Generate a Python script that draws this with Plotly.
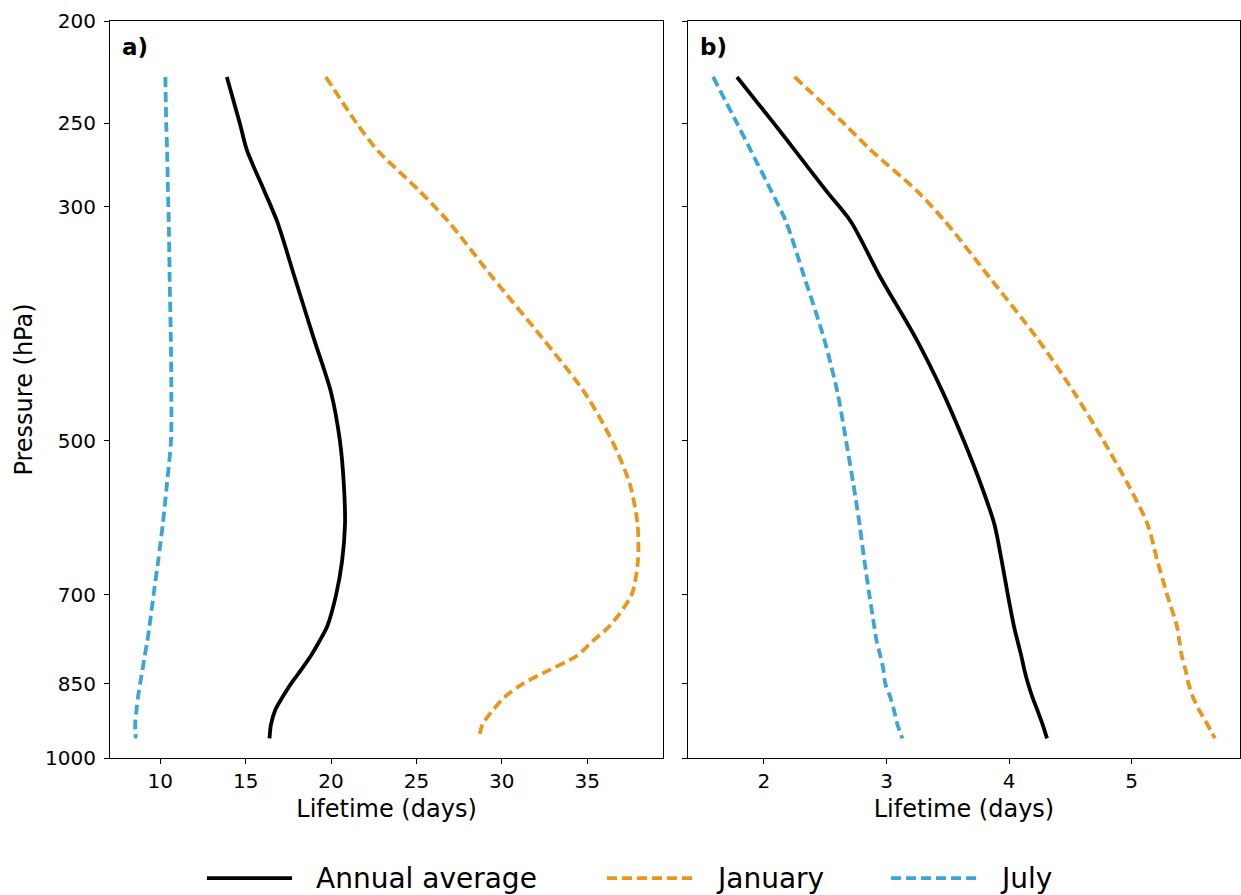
import numpy as np
import plotly.graph_objects as go

# ---------------- data ----------------
pressure = [226, 250, 265, 290, 310, 350, 400, 450, 500, 550, 600, 650, 700, 750, 775, 800, 825, 850, 875, 900, 930, 958]

a_annual = [13.9, 14.66, 15.07, 16.1, 16.85, 17.87, 18.99, 20.0, 20.52, 20.75, 20.82, 20.65, 20.3, 19.78, 19.32, 18.82, 18.25, 17.66, 17.17, 16.74, 16.48, 16.4]
a_january = [19.7, 21.5, 22.7, 25.19, 26.88, 29.45, 32.39, 34.84, 36.45, 37.5, 37.95, 37.97, 37.6, 36.3, 35.3, 34.4, 32.8, 31.25, 30.18, 29.5, 28.86, 28.67]
a_july = [10.3, 10.35, 10.4, 10.45, 10.5, 10.55, 10.62, 10.65, 10.63, 10.39, 10.15, 9.88, 9.61, 9.37, 9.24, 9.09, 8.96, 8.82, 8.7, 8.61, 8.53, 8.57]

b_annual = [1.78, 2.08, 2.25, 2.51, 2.71, 2.95, 3.24, 3.46, 3.63, 3.77, 3.88, 3.94, 3.99, 4.04, 4.07, 4.10, 4.125, 4.155, 4.19, 4.23, 4.275, 4.31]
b_january = [2.25, 2.65, 2.87, 3.25, 3.48, 3.84, 4.23, 4.53, 4.77, 4.97, 5.13, 5.21, 5.29, 5.37, 5.39, 5.41, 5.44, 5.465, 5.50, 5.55, 5.62, 5.68]
b_july = [1.585, 1.78, 1.89, 2.06, 2.18, 2.33, 2.49, 2.60, 2.67, 2.73, 2.78, 2.82, 2.86, 2.90, 2.92, 2.95, 2.975, 2.99, 3.03, 3.06, 3.09, 3.13]

series_names = ["Annual average", "January", "July"]
series_colors = ["#000000", "#E8961C", "#3CA5D8"]
series_dash = ["solid", "10px,5px", "10px,5px"]

y_ticks = [200, 250, 300, 500, 700, 850, 1000]
xa_ticks = [10, 15, 20, 25, 30, 35]
xb_ticks = [2, 3, 4, 5]
panel_labels = ["a)", "b)"]

FONT = "DejaVu Sans"
LW = 3.8

fig = go.Figure()

panels = [
    ("x", "y", [a_annual, a_january, a_july]),
    ("x2", "y2", [b_annual, b_january, b_july]),
]
for xr, yr, data in panels:
    for name, col, dash, vals in zip(series_names, series_colors, series_dash, data):
        fig.add_trace(go.Scatter(
            x=vals, y=pressure, mode="lines", name=name,
            line=dict(color=col, width=LW, dash=dash, shape="spline", smoothing=0.8),
            xaxis=xr, yaxis=yr, showlegend=False,
        ))


def xrange_for(*arrs):
    allv = np.concatenate([np.asarray(a, float) for a in arrs])
    lo, hi = allv.min(), allv.max()
    pad = 0.05 * (hi - lo)
    return [lo - pad, hi + pad]


axis_common = dict(
    showline=True, linecolor="black", linewidth=1.2, mirror=True,
    ticks="outside", ticklen=5, tickwidth=1.2, tickcolor="black",
    showgrid=False, zeroline=False,
    tickfont=dict(family=FONT, size=20, color="black"),
)

fig.update_layout(
    width=1241, height=895,
    margin=dict(l=110, r=1, t=21, b=137),
    paper_bgcolor="white", plot_bgcolor="white",
    font=dict(family=FONT, color="black"),
    showlegend=False,
    xaxis=dict(domain=[0, 0.4894], range=xrange_for(a_annual, a_january, a_july),
               tickvals=xa_ticks, ticktext=[str(t) for t in xa_ticks],
               title=dict(text="Lifetime (days)", font=dict(family=FONT, size=24), standoff=8),
               anchor="y", **axis_common),
    xaxis2=dict(domain=[0.5115, 1], range=xrange_for(b_annual, b_january, b_july),
                tickvals=xb_ticks, ticktext=[str(t) for t in xb_ticks],
                title=dict(text="Lifetime (days)", font=dict(family=FONT, size=24), standoff=8),
                anchor="y2", **axis_common),
    yaxis=dict(type="log", range=[np.log10(1000), np.log10(200)],
               tickvals=y_ticks, ticktext=[str(t) for t in y_ticks],
               title=dict(text="Pressure (hPa)", font=dict(family=FONT, size=24), standoff=5),
               anchor="x", ticklabelstandoff=4, **axis_common),
    yaxis2=dict(type="log", range=[np.log10(1000), np.log10(200)],
                tickvals=y_ticks, showticklabels=False, matches="y",
                anchor="x2", **axis_common),
)

# panel labels
for lab, xr, yr in zip(panel_labels, ["x", "x2"], ["y", "y2"]):
    fig.add_annotation(text=f"<b>{lab}</b>", xref=f"{xr} domain", yref=f"{yr} domain",
                       x=0.018, y=0.965, xanchor="left", yanchor="middle", showarrow=False,
                       font=dict(family=FONT, size=23, color="black"))

# legend below plots (manual, matching reference layout)
leg_y = -0.163
leg_x0 = [0.0858, 0.4398, 0.6912]
sample_len = 0.0753
for name, col, dash, x0 in zip(series_names, series_colors, series_dash, leg_x0):
    fig.add_shape(type="line", xref="paper", yref="paper", x0=x0, x1=x0 + sample_len,
                  y0=leg_y, y1=leg_y, line=dict(color=col, width=LW, dash=dash))
    fig.add_annotation(text=name, xref="paper", yref="paper", x=x0 + sample_len + 0.0195, y=leg_y,
                       xanchor="left", yanchor="middle", showarrow=False,
                       font=dict(family=FONT, size=28, color="black"))

fig.write_html("out.html",
               config={"displayModeBar": False},
               post_script="document.body.style.margin='0px';document.body.style.padding='0px';"
                           "document.body.style.overflow='hidden';")
